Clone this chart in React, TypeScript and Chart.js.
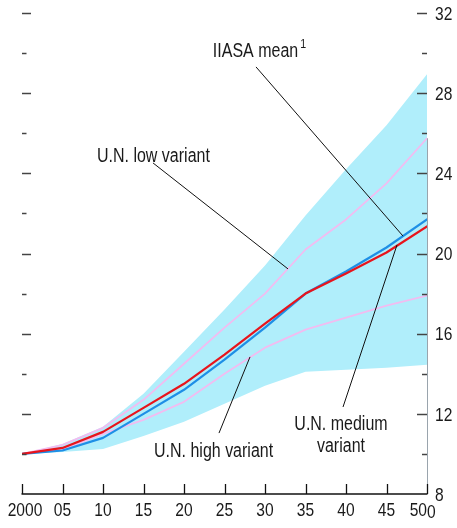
import React, { useEffect, useRef } from "react";
import { Chart, registerables } from "chart.js";

Chart.register(...registerables);

// ---- data ----
const years = [2000, 2005, 2010, 2015, 2020, 2025, 2030, 2035, 2040, 2045, 2050];
const iiasaMean = [10, 10.3, 11.1, 12.3, 13.5, 14.95, 16.5, 18.0, 19.0, 20.05, 21.35];
const unMedium = [10, 10.17, 10.8, 12.0, 13.2, 14.7, 16.3, 18.0, 19.1, 20.3, 21.7];
const unLow = [10, 10.45, 11.3, 12.7, 14.5, 16.3, 18.0, 20.2, 21.7, 23.5, 25.75];
const unHigh = [10, 10.2, 11.0, 11.7, 12.6, 14.0, 15.3, 16.2, 16.8, 17.4, 17.9];
const bandLow = [10, 10.1, 10.25, 10.9, 11.6, 12.5, 13.4, 14.1, 14.2, 14.3, 14.45];
const bandHigh = [10, 10.5, 11.35, 13.0, 15.1, 17.2, 19.4, 21.9, 24.2, 26.4, 28.95];

const xTickYears = [2000, 2005, 2010, 2015, 2020, 2025, 2030, 2035, 2040, 2045, 2050];
const xTickLabels = ["2000", "05", "10", "15", "20", "25", "30", "35", "40", "45", "50"];
const yMajorTicks = [8, 12, 16, 20, 24, 28, 32];
const yMajorLabels = ["8", "12", "16", "20", "24", "28", "32"];
const yMinorTicks = [10, 14, 18, 22, 26, 30];

const X_MIN = 2000;
const X_MAX = 2050;
const Y_MIN = 8;
const Y_MAX = 32;

// annotation texts (anchor in data units)
const annTexts = [
  { text: "IIASA mean", sup: "1", x: 2028.83, y: 30.06, align: "center" },
  { text: "U.N. low variant", x: 2009.26, y: 24.82, align: "left" },
  { text: "U.N. high variant", x: 2016.3, y: 10.1, align: "left" },
  { text: "U.N. medium", x: 2039.38, y: 11.44, align: "center" },
  { text: "variant", x: 2039.38, y: 10.35, align: "center" },
];
// leader lines [x1, y1, x2, y2] in data units
const leaders = [
  [2028.89, 29.31, 2047.04, 20.87],
  [2016.17, 24.52, 2032.84, 19.23],
  [2028.15, 14.84, 2024.32, 11.04],
  [2046.3, 20.43, 2039.63, 12.34],
];

const FONT = '"Liberation Sans", Arimo, Arial, sans-serif';
const SX = 0.82; // horizontal condensing of text
const CYAN = "#b0eefb";
const RED = "#e8141c";
const BLUE = "#1e8fe6";
const PINK = "#f2bcf0";

const pts = (arr: number[]) => arr.map((v, i) => ({ x: years[i], y: v }));

function drawText(ctx: any, text: string, x: number, y: number, align: string, size: number) {
  ctx.save();
  ctx.translate(x, y);
  ctx.scale(SX, 1);
  ctx.font = `${size}px ${FONT}`;
  ctx.textAlign = align;
  ctx.textBaseline = "middle";
  ctx.fillText(text, 0, 0);
  const w = ctx.measureText(text).width * SX;
  ctx.restore();
  return w;
}

const overlay = {
  id: "overlay",
  afterDraw(chart: any) {
    const { ctx } = chart;
    const xs = chart.scales.x;
    const ys = chart.scales.y;
    const px = (v: number) => xs.getPixelForValue(v);
    const py = (v: number) => ys.getPixelForValue(v);
    ctx.save();

    // right edge line
    ctx.strokeStyle = "#9aa4ad";
    ctx.lineWidth = 1;
    ctx.beginPath();
    ctx.moveTo(px(X_MAX) + 0.5, py(Y_MIN));
    ctx.lineTo(px(X_MAX) + 0.5, py(unLow[unLow.length - 1]));
    ctx.stroke();

    // leader lines
    ctx.strokeStyle = "#111";
    ctx.lineWidth = 1;
    leaders.forEach(([x1, y1, x2, y2]) => {
      ctx.beginPath();
      ctx.moveTo(px(x1), py(y1));
      ctx.lineTo(px(x2), py(y2));
      ctx.stroke();
    });

    // x axis
    const y0 = py(Y_MIN);
    ctx.strokeStyle = "#111";
    ctx.lineWidth = 1.5;
    ctx.beginPath();
    ctx.moveTo(px(X_MIN) - 0.5, y0);
    ctx.lineTo(px(X_MAX) + 0.5, y0);
    ctx.stroke();
    ctx.lineWidth = 1.3;
    xTickYears.forEach((yr) => {
      const x = Math.round(px(yr)) + 0.5;
      ctx.beginPath();
      ctx.moveTo(x, y0);
      ctx.lineTo(x, y0 - 10);
      ctx.stroke();
    });

    ctx.fillStyle = "#1a1a1a";
    xTickYears.forEach((yr, i) => {
      const last = i === xTickYears.length - 1;
      const x = px(yr) + (i === 0 ? 3 : 0);
      drawText(ctx, xTickLabels[i], x, y0 + 17, last ? "right" : "center", 19);
    });
    drawText(ctx, "0", px(X_MAX), y0 + 18.5, "left", 19);

    // y ticks left & right
    ctx.strokeStyle = "#444";
    ctx.lineWidth = 1.5;
    const lx = px(X_MIN);
    const rx = px(X_MAX);
    yMajorTicks.forEach((v) => {
      if (v === Y_MIN) return;
      const y = Math.round(py(v)) + 0.5;
      ctx.beginPath();
      ctx.moveTo(lx, y);
      ctx.lineTo(lx + 9, y);
      ctx.stroke();
      ctx.beginPath();
      ctx.moveTo(rx - 10, y);
      ctx.lineTo(rx, y);
      ctx.stroke();
    });
    yMinorTicks.forEach((v) => {
      const y = Math.round(py(v)) + 0.5;
      ctx.beginPath();
      ctx.moveTo(lx, y);
      ctx.lineTo(lx + 4.5, y);
      ctx.stroke();
      ctx.beginPath();
      ctx.moveTo(rx - 5, y);
      ctx.lineTo(rx, y);
      ctx.stroke();
    });
    yMajorTicks.forEach((v, i) => {
      drawText(ctx, yMajorLabels[i], rx + 8, py(v) + 1.5, "left", 19);
    });

    // annotation texts
    annTexts.forEach((a: any) => {
      const x = px(a.x);
      const y = py(a.y);
      const w = drawText(ctx, a.text, x, y, a.align, 19.5);
      if (a.sup) {
        const endX = a.align === "center" ? x + w / 2 : x + w;
        drawText(ctx, a.sup, endX + 2, y - 7, "left", 13);
      }
    });

    ctx.restore();
  },
};

export default function App() {
  const ref = useRef<HTMLCanvasElement | null>(null);

  useEffect(() => {
    document.body.style.margin = "0";
    const canvas = ref.current;
    if (!canvas) return;
    // datasets with lower index are drawn on top
    const chart = new Chart(canvas, {
      type: "line",
      data: {
        datasets: [
          {
            label: "IIASA mean",
            data: pts(iiasaMean),
            borderColor: RED,
            borderWidth: 2.2,
            pointRadius: 0,
            fill: false,
          },
          {
            label: "U.N. medium variant",
            data: pts(unMedium),
            borderColor: BLUE,
            borderWidth: 2.2,
            pointRadius: 0,
            fill: false,
          },
          {
            label: "U.N. low variant",
            data: pts(unLow),
            borderColor: PINK,
            borderWidth: 1.8,
            pointRadius: 0,
            fill: false,
          },
          {
            label: "U.N. high variant",
            data: pts(unHigh),
            borderColor: PINK,
            borderWidth: 1.8,
            pointRadius: 0,
            fill: false,
          },
          {
            label: "band low",
            data: pts(bandLow),
            borderWidth: 0,
            borderColor: "rgba(0,0,0,0)",
            pointRadius: 0,
            fill: false,
          },
          {
            label: "band high",
            data: pts(bandHigh),
            borderWidth: 0,
            borderColor: "rgba(0,0,0,0)",
            backgroundColor: CYAN,
            pointRadius: 0,
            fill: "-1",
          },
        ],
      },
      options: {
        animation: false,
        responsive: false,
        devicePixelRatio: 1,
        layout: { padding: { left: 22, right: 30, top: 13, bottom: 34 } },
        plugins: { legend: { display: false }, tooltip: { enabled: false } },
        elements: { line: { tension: 0, borderCapStyle: "round", borderJoinStyle: "round" } },
        scales: {
          x: { type: "linear", min: X_MIN, max: X_MAX, display: false },
          y: { type: "linear", min: Y_MIN, max: Y_MAX, display: false },
        },
      },
      plugins: [overlay],
    } as any);
    return () => chart.destroy();
  }, []);

  return (
    <div style={{ position: "fixed", left: 0, top: 0, width: 457, height: 528, background: "#fff" }}>
      <canvas ref={ref} width={457} height={528} style={{ width: 457, height: 528, display: "block" }} />
    </div>
  );
}
